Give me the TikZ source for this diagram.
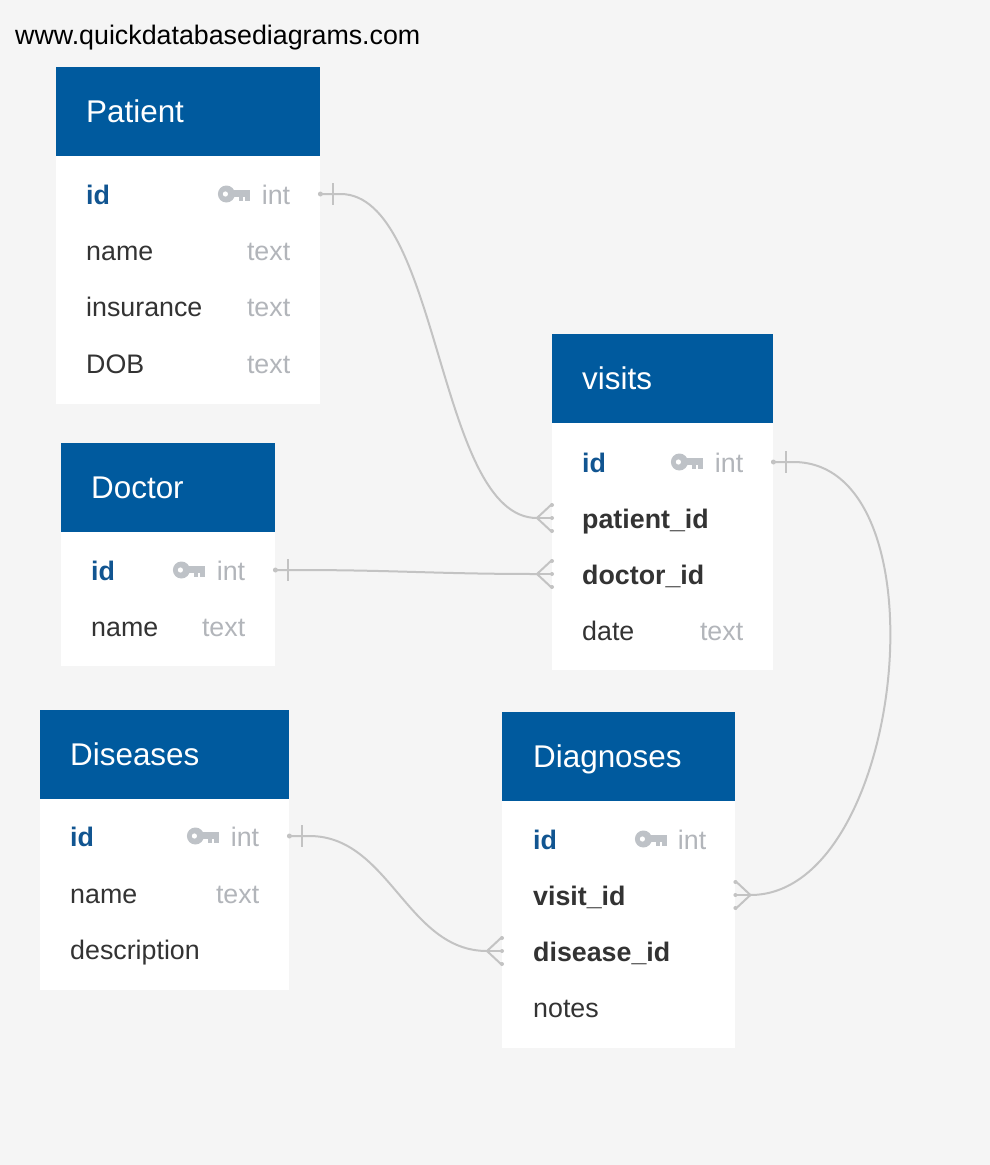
\documentclass[tikz,border=0pt]{standalone}
\usepackage{fontspec}
\setmainfont{Liberation Sans}
\usepackage{tikz}

\definecolor{qhead}{RGB}{0,90,158}
\definecolor{qbg}{RGB}{245,245,245}
\definecolor{qkey}{RGB}{17,85,145}
\definecolor{qtext}{RGB}{51,51,51}
\definecolor{qtype}{RGB}{178,181,186}
\definecolor{qline}{RGB}{195,195,195}
\definecolor{qicon}{RGB}{190,194,199}

% one end: dot on the edge, then a bar
\newcommand\relone[2]{%
  \fill[qline] (#1) circle (2.5pt);
  \draw[rel] ([xshift=#2*13pt,yshift=11pt]#1) -- ([xshift=#2*13pt,yshift=-11pt]#1);}
% many end: crow's foot
\newcommand\relmany[2]{%
  \draw[rel] ([yshift=14pt]#1) -- ([xshift=#2*15pt]#1) -- ([yshift=-14pt]#1);
  \draw[rel] ([xshift=#2*15pt]#1) -- (#1);
  \fill[qline] ([yshift=13pt]#1) circle (2pt) (#1) circle (2pt) ([yshift=-13pt]#1) circle (2pt);}

\begin{document}
\begin{tikzpicture}[x=1pt,y=-1pt,
  thead/.style={fill=qhead,inner sep=0,anchor=south west,minimum height=89pt},
  tbody/.style={fill=white,inner sep=0,anchor=north west},
  title/.style={text=white,inner sep=0,anchor=base west,font=\fontsize{31.4}{36}\selectfont},
  frow/.style={inner sep=0,minimum height=56pt,anchor=west},
  fname/.style={text=qtext,inner sep=0,anchor=base west,font=\fontsize{26.8}{32}\selectfont},
  fkey/.style={fname,text=qkey,font=\fontsize{26.8}{32}\selectfont\bfseries},
  fref/.style={fname,font=\fontsize{26.8}{32}\selectfont\bfseries},
  ftype/.style={text=qtype,inner sep=0,anchor=base east,font=\fontsize{26.8}{32}\selectfont},
  rel/.style={draw=qline,line width=2pt},
  pkey/.pic={
    \fill[qicon] (-24,0) circle (8.5pt);
    \fill[white] (-25,0) circle (2.6pt);
    \fill[qicon] (-18,-4) rectangle (0,3);
    \fill[qicon] (-11,3) rectangle (-7,7);
    \fill[qicon] (-5,3) rectangle (0,7);
  }]
\fill[qbg] (0,0) rectangle (990,1165);
\useasboundingbox (0,0) rectangle (990,1165);
\node[text=black,inner sep=0,anchor=base west,font=\fontsize{26.8}{32}\selectfont] (site) at (15,44) {www.quickdatabasediagrams.com};

% Patient
\node[tbody,minimum width=264pt,minimum height=248pt] (pat) at (56,156) {};
\node[thead,minimum width=264pt] (pat-h) at (56,156) {};
\node[title] (pat-t) at ([xshift=30pt,yshift=-11.5pt]pat-h.west) {Patient};
\node[frow,minimum width=264pt] (pat-id) at (56,194) {};
\node[frow,minimum width=264pt] (pat-name) at (56,250) {};
\node[frow,minimum width=264pt] (pat-ins) at (56,306) {};
\node[frow,minimum width=264pt] (pat-dob) at (56,363) {};
\node[fkey] (pat-id-n) at ([xshift=30pt,yshift=-10pt]pat-id.west) {id};
\node[fname] (pat-name-n) at ([xshift=30pt,yshift=-10pt]pat-name.west) {name};
\node[fname] (pat-ins-n) at ([xshift=30pt,yshift=-10pt]pat-ins.west) {insurance};
\node[fname] (pat-dob-n) at ([xshift=30pt,yshift=-10pt]pat-dob.west) {DOB};
\node[ftype] (pat-id-t) at ([xshift=-30pt,yshift=-10pt]pat-id.east) {int};
\node[ftype] (pat-name-t) at ([xshift=-30pt,yshift=-10pt]pat-name.east) {text};
\node[ftype] (pat-ins-t) at ([xshift=-30pt,yshift=-10pt]pat-ins.east) {text};
\node[ftype] (pat-dob-t) at ([xshift=-30pt,yshift=-10pt]pat-dob.east) {text};
\pic at ([xshift=-70pt]pat-id.east) {pkey};

% Doctor
\node[tbody,minimum width=214pt,minimum height=134pt] (doc) at (61,532) {};
\node[thead,minimum width=214pt] (doc-h) at (61,532) {};
\node[title] (doc-t) at ([xshift=30pt,yshift=-11.5pt]doc-h.west) {Doctor};
\node[frow,minimum width=214pt] (doc-id) at (61,570) {};
\node[frow,minimum width=214pt] (doc-name) at (61,626) {};
\node[fkey] (doc-id-n) at ([xshift=30pt,yshift=-10pt]doc-id.west) {id};
\node[fname] (doc-name-n) at ([xshift=30pt,yshift=-10pt]doc-name.west) {name};
\node[ftype] (doc-id-t) at ([xshift=-30pt,yshift=-10pt]doc-id.east) {int};
\node[ftype] (doc-name-t) at ([xshift=-30pt,yshift=-10pt]doc-name.east) {text};
\pic at ([xshift=-70pt]doc-id.east) {pkey};

% Diseases
\node[tbody,minimum width=249pt,minimum height=191pt] (dis) at (40,799) {};
\node[thead,minimum width=249pt] (dis-h) at (40,799) {};
\node[title] (dis-t) at ([xshift=30pt,yshift=-11.5pt]dis-h.west) {Diseases};
\node[frow,minimum width=249pt] (dis-id) at (40,836) {};
\node[frow,minimum width=249pt] (dis-name) at (40,893) {};
\node[frow,minimum width=249pt] (dis-desc) at (40,949) {};
\node[fkey] (dis-id-n) at ([xshift=30pt,yshift=-10pt]dis-id.west) {id};
\node[fname] (dis-name-n) at ([xshift=30pt,yshift=-10pt]dis-name.west) {name};
\node[fname] (dis-desc-n) at ([xshift=30pt,yshift=-10pt]dis-desc.west) {description};
\node[ftype] (dis-id-t) at ([xshift=-30pt,yshift=-10pt]dis-id.east) {int};
\node[ftype] (dis-name-t) at ([xshift=-30pt,yshift=-10pt]dis-name.east) {text};
\pic at ([xshift=-70pt]dis-id.east) {pkey};

% visits
\node[tbody,minimum width=221pt,minimum height=247pt] (vis) at (552,423) {};
\node[thead,minimum width=221pt] (vis-h) at (552,423) {};
\node[title] (vis-t) at ([xshift=30pt,yshift=-11.5pt]vis-h.west) {visits};
\node[frow,minimum width=221pt] (vis-id) at (552,462) {};
\node[frow,minimum width=221pt] (vis-pid) at (552,518) {};
\node[frow,minimum width=221pt] (vis-did) at (552,574) {};
\node[frow,minimum width=221pt] (vis-date) at (552,630) {};
\node[fkey] (vis-id-n) at ([xshift=30pt,yshift=-10pt]vis-id.west) {id};
\node[fref] (vis-pid-n) at ([xshift=30pt,yshift=-10pt]vis-pid.west) {patient\_id};
\node[fref] (vis-did-n) at ([xshift=30pt,yshift=-10pt]vis-did.west) {doctor\_id};
\node[fname] (vis-date-n) at ([xshift=30pt,yshift=-10pt]vis-date.west) {date};
\node[ftype] (vis-id-t) at ([xshift=-30pt,yshift=-10pt]vis-id.east) {int};
\node[ftype] (vis-date-t) at ([xshift=-30pt,yshift=-10pt]vis-date.east) {text};
\pic at ([xshift=-70pt]vis-id.east) {pkey};

% Diagnoses
\node[tbody,minimum width=233pt,minimum height=247pt] (dia) at (502,801) {};
\node[thead,minimum width=233pt] (dia-h) at (502,801) {};
\node[title] (dia-t) at ([xshift=31pt,yshift=-11.5pt]dia-h.west) {Diagnoses};
\node[frow,minimum width=233pt] (dia-id) at (502,839) {};
\node[frow,minimum width=233pt] (dia-vid) at (502,895) {};
\node[frow,minimum width=233pt] (dia-sid) at (502,951) {};
\node[frow,minimum width=233pt] (dia-notes) at (502,1007) {};
\node[fkey] (dia-id-n) at ([xshift=31pt,yshift=-10pt]dia-id.west) {id};
\node[fref] (dia-vid-n) at ([xshift=31pt,yshift=-10pt]dia-vid.west) {visit\_id};
\node[fref] (dia-sid-n) at ([xshift=31pt,yshift=-10pt]dia-sid.west) {disease\_id};
\node[fname] (dia-notes-n) at ([xshift=31pt,yshift=-10pt]dia-notes.west) {notes};
\node[ftype] (dia-id-t) at ([xshift=-29pt,yshift=-10pt]dia-id.east) {int};
\pic at ([xshift=-68pt]dia-id.east) {pkey};

% relations
\draw[rel] (pat-id.east) -- ++(20,0) to[out=0,in=180,out distance=100pt,in distance=100pt] ([xshift=-15pt]vis-pid.west);
\relone{pat-id.east}{1}
\relmany{vis-pid.west}{-1}
\draw[rel] (doc-id.east) -- ++(20,0) to[out=0,in=180,out distance=100pt,in distance=100pt] ([xshift=-15pt]vis-did.west);
\relone{doc-id.east}{1}
\relmany{vis-did.west}{-1}
\draw[rel] (vis-id.east) -- ++(20,0) to[out=0,in=0,out distance=155pt,in distance=155pt] ([xshift=15pt]dia-vid.east);
\relone{vis-id.east}{1}
\relmany{dia-vid.east}{1}
\draw[rel] (dis-id.east) -- ++(20,0) to[out=0,in=180,out distance=80pt,in distance=80pt] ([xshift=-15pt]dia-sid.west);
\relone{dis-id.east}{1}
\relmany{dia-sid.west}{-1}
\end{tikzpicture}
\end{document}
